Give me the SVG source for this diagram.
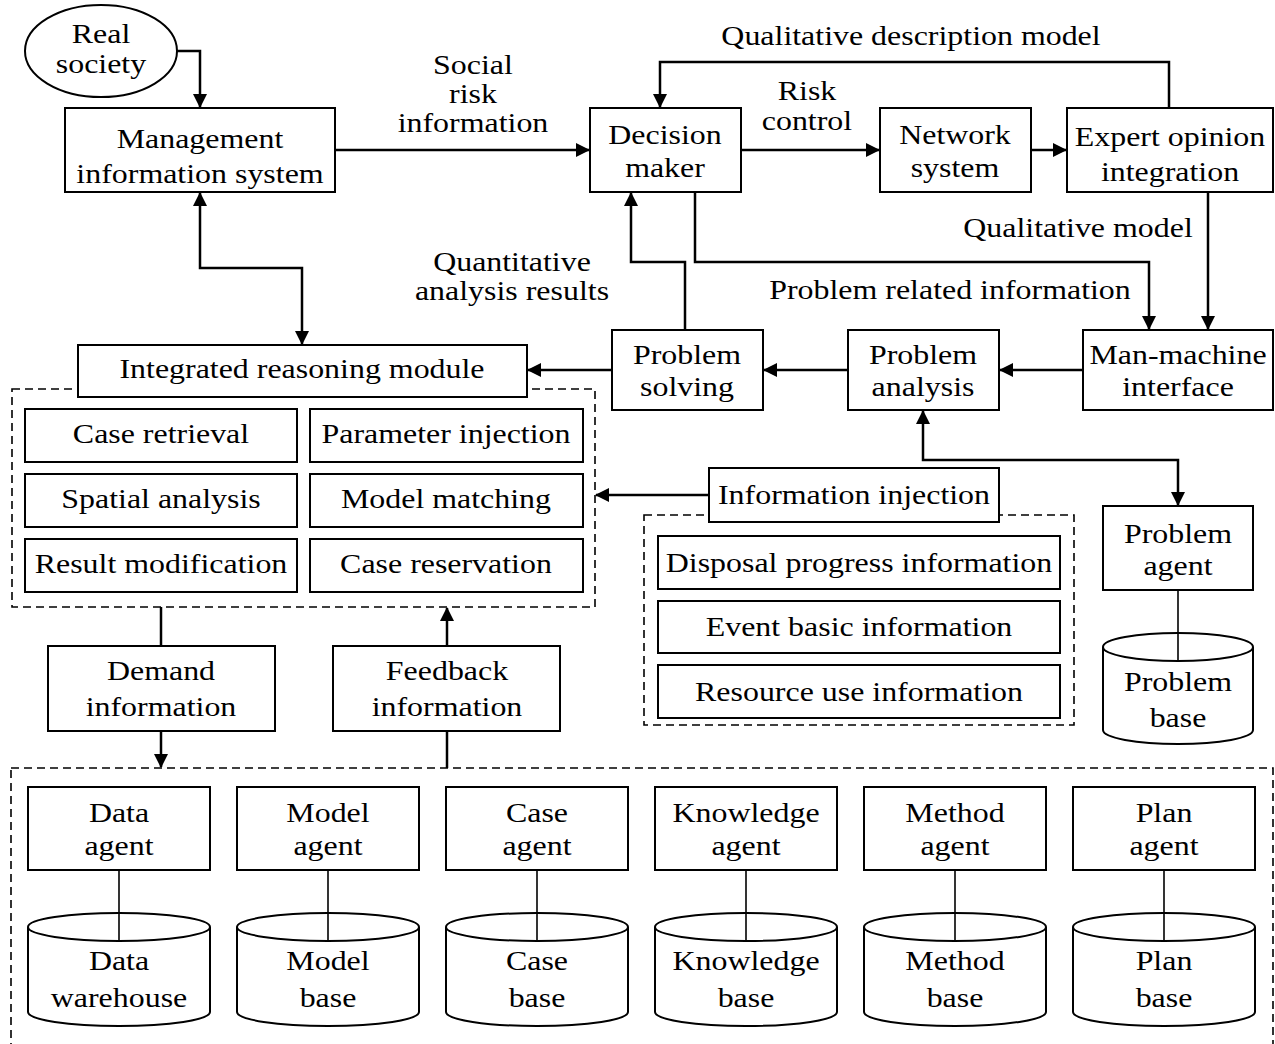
<svg xmlns="http://www.w3.org/2000/svg" width="1275" height="1044" viewBox="0 0 1275 1044">
<style>
.t{font-family:"Liberation Serif","Times New Roman",serif;font-size:28px;text-anchor:middle;fill:#000}
.b{fill:#fff;stroke:#000;stroke-width:2}
.d{fill:none;stroke:#000;stroke-width:1.6;stroke-dasharray:8 5}
.c{fill:none;stroke:#000;stroke-width:2.5}
.l{fill:none;stroke:#000;stroke-width:1.6}
</style>
<defs>
<marker id="a" markerUnits="userSpaceOnUse" markerWidth="14" markerHeight="14" refX="13" refY="7" orient="auto-start-reverse" viewBox="0 0 14 14">
<path d="M0,0 L14,7 L0,14 z" fill="#000"/>
</marker>
</defs>
<rect width="1275" height="1044" fill="#fff"/>

<g id="regions">
<rect class="d" x="12" y="389" width="583" height="218"/>
<rect class="d" x="644" y="515" width="430" height="210"/>
<rect class="d" x="11" y="768" width="1262" height="290"/>
</g>

<g id="connectors">
<path class="c" d="M177,51 H200 V107" marker-end="url(#a)"/>
<path class="c" d="M200,193 V268 H302 V344" marker-start="url(#a)" marker-end="url(#a)"/>
<path class="c" d="M335,150 H589" marker-end="url(#a)"/>
<path class="c" d="M741,150 H879" marker-end="url(#a)"/>
<path class="c" d="M1031,150 H1066" marker-end="url(#a)"/>
<path class="c" d="M1169,108 V62 H660 V107" marker-end="url(#a)"/>
<path class="c" d="M1208,192 V329" marker-end="url(#a)"/>
<path class="c" d="M695,192 V262 H1149 V329" marker-end="url(#a)"/>
<path class="c" d="M685,330 V262 H631 V193" marker-end="url(#a)"/>
<path class="c" d="M612,370 H528" marker-end="url(#a)"/>
<path class="c" d="M848,370 H764" marker-end="url(#a)"/>
<path class="c" d="M1083,370 H1000" marker-end="url(#a)"/>
<path class="c" d="M923,411 V460 H1178 V505" marker-start="url(#a)" marker-end="url(#a)"/>
<path class="c" d="M709,495 H596" marker-end="url(#a)"/>
<path class="c" d="M161,607 V646"/>
<path class="c" d="M161,731 V767" marker-end="url(#a)"/>
<path class="c" d="M447,768 V731"/>
<path class="c" d="M447,646 V608" marker-end="url(#a)"/>
</g>

<g id="real-society">
<ellipse class="b" cx="101" cy="51" rx="76" ry="46"/>
<text class="t" transform="translate(101,43) scale(1.14,1)">Real</text>
<text class="t" transform="translate(101,73) scale(1.14,1)">society</text>
</g>
<g id="mis">
<rect class="b" x="65" y="108" width="270" height="84"/>
<text class="t" transform="translate(200,148) scale(1.14,1)">Management</text>
<text class="t" transform="translate(200,183) scale(1.14,1)">information system</text>
</g>
<g id="social-risk-label">
<text class="t" transform="translate(473,74) scale(1.14,1)">Social</text>
<text class="t" transform="translate(473,103) scale(1.14,1)">risk</text>
<text class="t" transform="translate(473,132) scale(1.14,1)">information</text>
</g>
<g id="decision-maker">
<rect class="b" x="590" y="108" width="151" height="84"/>
<text class="t" transform="translate(665,144) scale(1.14,1)">Decision</text>
<text class="t" transform="translate(665,177) scale(1.14,1)">maker</text>
</g>
<g id="risk-control-label">
<text class="t" transform="translate(807,100) scale(1.14,1)">Risk</text>
<text class="t" transform="translate(807,130) scale(1.14,1)">control</text>
</g>
<g id="network-system">
<rect class="b" x="880" y="108" width="151" height="84"/>
<text class="t" transform="translate(955,144) scale(1.14,1)">Network</text>
<text class="t" transform="translate(955,177) scale(1.14,1)">system</text>
</g>
<g id="expert">
<rect class="b" x="1067" y="108" width="206" height="84"/>
<text class="t" transform="translate(1170,146) scale(1.14,1)">Expert opinion</text>
<text class="t" transform="translate(1170,181) scale(1.14,1)">integration</text>
</g>
<g id="labels">
<text class="t" transform="translate(911,45) scale(1.14,1)">Qualitative description model</text>
<text class="t" transform="translate(1078,237) scale(1.14,1)">Qualitative model</text>
<text class="t" transform="translate(950,299) scale(1.14,1)">Problem related information</text>
<text class="t" transform="translate(512,271) scale(1.14,1)">Quantitative</text>
<text class="t" transform="translate(512,300) scale(1.14,1)">analysis results</text>
</g>
<g id="problem-solving">
<rect class="b" x="612" y="330" width="151" height="80"/>
<text class="t" transform="translate(687,364) scale(1.14,1)">Problem</text>
<text class="t" transform="translate(687,396) scale(1.14,1)">solving</text>
</g>
<g id="problem-analysis">
<rect class="b" x="848" y="330" width="151" height="80"/>
<text class="t" transform="translate(923,364) scale(1.14,1)">Problem</text>
<text class="t" transform="translate(923,396) scale(1.14,1)">analysis</text>
</g>
<g id="man-machine">
<rect class="b" x="1083" y="330" width="190" height="80"/>
<text class="t" transform="translate(1178,364) scale(1.14,1)">Man-machine</text>
<text class="t" transform="translate(1178,396) scale(1.14,1)">interface</text>
</g>
<g id="integrated">
<rect class="b" x="78" y="345" width="449" height="52"/>
<text class="t" transform="translate(302,378) scale(1.14,1)">Integrated reasoning module</text>
</g>
<g id="case-retrieval"><rect class="b" x="25" y="409" width="272" height="53"/><text class="t" transform="translate(161,443) scale(1.14,1)">Case retrieval</text></g>
<g id="parameter-injection"><rect class="b" x="310" y="409" width="273" height="53"/><text class="t" transform="translate(446,443) scale(1.14,1)">Parameter injection</text></g>
<g id="spatial-analysis"><rect class="b" x="25" y="474" width="272" height="53"/><text class="t" transform="translate(161,508) scale(1.14,1)">Spatial analysis</text></g>
<g id="model-matching"><rect class="b" x="310" y="474" width="273" height="53"/><text class="t" transform="translate(446,508) scale(1.14,1)">Model matching</text></g>
<g id="result-modification"><rect class="b" x="25" y="539" width="272" height="53"/><text class="t" transform="translate(161,573) scale(1.14,1)">Result modification</text></g>
<g id="case-reservation"><rect class="b" x="310" y="539" width="273" height="53"/><text class="t" transform="translate(446,573) scale(1.14,1)">Case reservation</text></g>

<g id="information-injection"><rect class="b" x="709" y="468" width="290" height="54"/><text class="t" transform="translate(854,504) scale(1.14,1)">Information injection</text></g>
<g id="disposal"><rect class="b" x="658" y="536" width="402" height="53"/><text class="t" transform="translate(859,572) scale(1.14,1)">Disposal progress information</text></g>
<g id="event"><rect class="b" x="658" y="601" width="402" height="52"/><text class="t" transform="translate(859,636) scale(1.14,1)">Event basic information</text></g>
<g id="resource"><rect class="b" x="658" y="665" width="402" height="53"/><text class="t" transform="translate(859,701) scale(1.14,1)">Resource use information</text></g>

<g id="problem-agent">
<rect class="b" x="1103" y="506" width="150" height="84"/>
<text class="t" transform="translate(1178,543) scale(1.14,1)">Problem</text>
<text class="t" transform="translate(1178,575) scale(1.14,1)">agent</text>
</g>
<g id="problem-base">
<path class="b" d="M1103,647 A75,14 0 0 1 1253,647 V730 A75,14 0 0 1 1103,730 Z"/>
<path class="b" d="M1103,647 A75,14 0 0 0 1253,647"/>
<path class="l" d="M1178,590 V661"/>
<text class="t" transform="translate(1178,691) scale(1.14,1)">Problem</text>
<text class="t" transform="translate(1178,727) scale(1.14,1)">base</text>
</g>

<g id="demand"><rect class="b" x="48" y="646" width="227" height="85"/>
<text class="t" transform="translate(161,680) scale(1.14,1)">Demand</text>
<text class="t" transform="translate(161,716) scale(1.14,1)">information</text></g>
<g id="feedback"><rect class="b" x="333" y="646" width="227" height="85"/>
<text class="t" transform="translate(447,680) scale(1.14,1)">Feedback</text>
<text class="t" transform="translate(447,716) scale(1.14,1)">information</text></g>

<g id="data-agent"><rect class="b" x="28" y="787" width="182" height="83"/>
<text class="t" transform="translate(119,822) scale(1.14,1)">Data</text>
<text class="t" transform="translate(119,855) scale(1.14,1)">agent</text></g>
<g id="model-agent"><rect class="b" x="237" y="787" width="182" height="83"/>
<text class="t" transform="translate(328,822) scale(1.14,1)">Model</text>
<text class="t" transform="translate(328,855) scale(1.14,1)">agent</text></g>
<g id="case-agent"><rect class="b" x="446" y="787" width="182" height="83"/>
<text class="t" transform="translate(537,822) scale(1.14,1)">Case</text>
<text class="t" transform="translate(537,855) scale(1.14,1)">agent</text></g>
<g id="knowledge-agent"><rect class="b" x="655" y="787" width="182" height="83"/>
<text class="t" transform="translate(746,822) scale(1.14,1)">Knowledge</text>
<text class="t" transform="translate(746,855) scale(1.14,1)">agent</text></g>
<g id="method-agent"><rect class="b" x="864" y="787" width="182" height="83"/>
<text class="t" transform="translate(955,822) scale(1.14,1)">Method</text>
<text class="t" transform="translate(955,855) scale(1.14,1)">agent</text></g>
<g id="plan-agent"><rect class="b" x="1073" y="787" width="182" height="83"/>
<text class="t" transform="translate(1164,822) scale(1.14,1)">Plan</text>
<text class="t" transform="translate(1164,855) scale(1.14,1)">agent</text></g>

<g id="data-warehouse">
<path class="b" d="M28,927 A91,14 0 0 1 210,927 V1012 A91,14 0 0 1 28,1012 Z"/>
<path class="b" d="M28,927 A91,14 0 0 0 210,927"/>
<path class="l" d="M119,870 V941"/>
<text class="t" transform="translate(119,970) scale(1.14,1)">Data</text>
<text class="t" transform="translate(119,1007) scale(1.14,1)">warehouse</text>
</g>
<g id="model-base">
<path class="b" d="M237,927 A91,14 0 0 1 419,927 V1012 A91,14 0 0 1 237,1012 Z"/>
<path class="b" d="M237,927 A91,14 0 0 0 419,927"/>
<path class="l" d="M328,870 V941"/>
<text class="t" transform="translate(328,970) scale(1.14,1)">Model</text>
<text class="t" transform="translate(328,1007) scale(1.14,1)">base</text>
</g>
<g id="case-base">
<path class="b" d="M446,927 A91,14 0 0 1 628,927 V1012 A91,14 0 0 1 446,1012 Z"/>
<path class="b" d="M446,927 A91,14 0 0 0 628,927"/>
<path class="l" d="M537,870 V941"/>
<text class="t" transform="translate(537,970) scale(1.14,1)">Case</text>
<text class="t" transform="translate(537,1007) scale(1.14,1)">base</text>
</g>
<g id="knowledge-base">
<path class="b" d="M655,927 A91,14 0 0 1 837,927 V1012 A91,14 0 0 1 655,1012 Z"/>
<path class="b" d="M655,927 A91,14 0 0 0 837,927"/>
<path class="l" d="M746,870 V941"/>
<text class="t" transform="translate(746,970) scale(1.14,1)">Knowledge</text>
<text class="t" transform="translate(746,1007) scale(1.14,1)">base</text>
</g>
<g id="method-base">
<path class="b" d="M864,927 A91,14 0 0 1 1046,927 V1012 A91,14 0 0 1 864,1012 Z"/>
<path class="b" d="M864,927 A91,14 0 0 0 1046,927"/>
<path class="l" d="M955,870 V941"/>
<text class="t" transform="translate(955,970) scale(1.14,1)">Method</text>
<text class="t" transform="translate(955,1007) scale(1.14,1)">base</text>
</g>
<g id="plan-base">
<path class="b" d="M1073,927 A91,14 0 0 1 1255,927 V1012 A91,14 0 0 1 1073,1012 Z"/>
<path class="b" d="M1073,927 A91,14 0 0 0 1255,927"/>
<path class="l" d="M1164,870 V941"/>
<text class="t" transform="translate(1164,970) scale(1.14,1)">Plan</text>
<text class="t" transform="translate(1164,1007) scale(1.14,1)">base</text>
</g>
</svg>
